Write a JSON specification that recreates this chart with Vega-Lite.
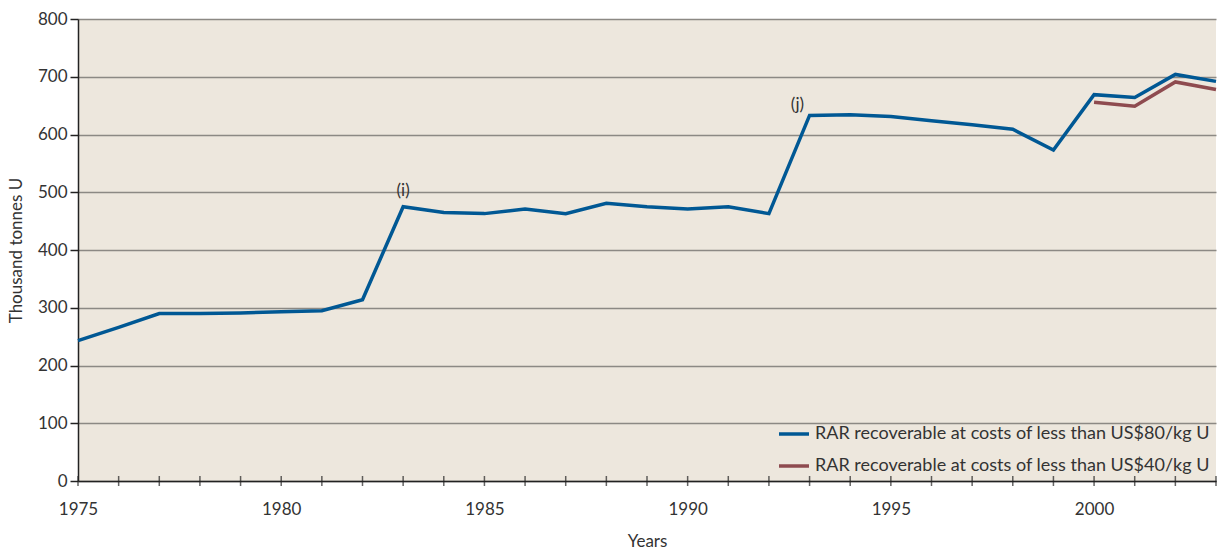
{
  "$schema": "https://vega.github.io/schema/vega-lite/v6.json",
  "width": 1138,
  "height": 462,
  "autosize": "none",
  "padding": {"left": 78, "top": 19, "right": 5, "bottom": 73},
  "background": "#ffffff",
  "config": {
    "font": "Lato",
    "view": {"fill": "#ede7dd", "stroke": null},
    "axis": {"labelFont": "Lato", "titleFont": "Lato", "labelFontSize": 17, "titleFontSize": 17, "labelColor": "#333333", "titleColor": "#333333", "titleFontWeight": "normal", "domainColor": "#222222", "tickColor": "#222222", "domainWidth": 1.5, "tickWidth": 1.5},
    "legend": {"labelFont": "Lato", "labelFontSize": 18, "labelColor": "#333333"}
  },
  "datasets": {
    "series": [
      {"year": 1975, "value": 243, "series": "RAR recoverable at costs of less than US$80/kg U"},
      {"year": 1976, "value": 266, "series": "RAR recoverable at costs of less than US$80/kg U"},
      {"year": 1977, "value": 290, "series": "RAR recoverable at costs of less than US$80/kg U"},
      {"year": 1978, "value": 290, "series": "RAR recoverable at costs of less than US$80/kg U"},
      {"year": 1979, "value": 291, "series": "RAR recoverable at costs of less than US$80/kg U"},
      {"year": 1980, "value": 293, "series": "RAR recoverable at costs of less than US$80/kg U"},
      {"year": 1981, "value": 295, "series": "RAR recoverable at costs of less than US$80/kg U"},
      {"year": 1982, "value": 314, "series": "RAR recoverable at costs of less than US$80/kg U"},
      {"year": 1983, "value": 475, "series": "RAR recoverable at costs of less than US$80/kg U"},
      {"year": 1984, "value": 465, "series": "RAR recoverable at costs of less than US$80/kg U"},
      {"year": 1985, "value": 463, "series": "RAR recoverable at costs of less than US$80/kg U"},
      {"year": 1986, "value": 471, "series": "RAR recoverable at costs of less than US$80/kg U"},
      {"year": 1987, "value": 463, "series": "RAR recoverable at costs of less than US$80/kg U"},
      {"year": 1988, "value": 481, "series": "RAR recoverable at costs of less than US$80/kg U"},
      {"year": 1989, "value": 475, "series": "RAR recoverable at costs of less than US$80/kg U"},
      {"year": 1990, "value": 471, "series": "RAR recoverable at costs of less than US$80/kg U"},
      {"year": 1991, "value": 475, "series": "RAR recoverable at costs of less than US$80/kg U"},
      {"year": 1992, "value": 463, "series": "RAR recoverable at costs of less than US$80/kg U"},
      {"year": 1993, "value": 633, "series": "RAR recoverable at costs of less than US$80/kg U"},
      {"year": 1994, "value": 634, "series": "RAR recoverable at costs of less than US$80/kg U"},
      {"year": 1995, "value": 631, "series": "RAR recoverable at costs of less than US$80/kg U"},
      {"year": 1996, "value": 624, "series": "RAR recoverable at costs of less than US$80/kg U"},
      {"year": 1997, "value": 617, "series": "RAR recoverable at costs of less than US$80/kg U"},
      {"year": 1998, "value": 609, "series": "RAR recoverable at costs of less than US$80/kg U"},
      {"year": 1999, "value": 573, "series": "RAR recoverable at costs of less than US$80/kg U"},
      {"year": 2000, "value": 669, "series": "RAR recoverable at costs of less than US$80/kg U"},
      {"year": 2001, "value": 664, "series": "RAR recoverable at costs of less than US$80/kg U"},
      {"year": 2002, "value": 704, "series": "RAR recoverable at costs of less than US$80/kg U"},
      {"year": 2003, "value": 692, "series": "RAR recoverable at costs of less than US$80/kg U"},
      {"year": 2000, "value": 656, "series": "RAR recoverable at costs of less than US$40/kg U"},
      {"year": 2001, "value": 649, "series": "RAR recoverable at costs of less than US$40/kg U"},
      {"year": 2002, "value": 691, "series": "RAR recoverable at costs of less than US$40/kg U"},
      {"year": 2003, "value": 678, "series": "RAR recoverable at costs of less than US$40/kg U"}
    ],
    "notes": [
      {"year": 1983, "value": 502, "label": "(i)"},
      {"year": 1992.7, "value": 651, "label": "(j)"}
    ]
  },
  "layer": [
    {
      "data": {"name": "series"},
      "mark": {"type": "line", "strokeWidth": 3.5, "strokeJoin": "miter"},
      "encoding": {
        "x": {"field": "year", "type": "quantitative", "scale": {"domain": [1975, 2003], "nice": false, "zero": false},
          "axis": {"title": "Years", "values": [1975,1980,1985,1990,1995,2000],
            "format": "d", "grid": false, "ticks": false, "labelPadding": 20, "titlePadding": 16, "labelOverlap": false, "labelFlush": false}},
        "y": {"field": "value", "type": "quantitative", "scale": {"domain": [0, 800], "nice": false},
          "axis": {"title": "Thousand tonnes U", "values": [0,100,200,300,400,500,600,700,800], "grid": true, "gridColor": "#8c8984", "gridWidth": 1.5, "gridOpacity": 1, "tickSize": 8, "labelPadding": 3, "titlePadding": 12}},
        "color": {"field": "series", "type": "nominal",
          "scale": {"domain": ["RAR recoverable at costs of less than US$80/kg U", "RAR recoverable at costs of less than US$40/kg U"], "range": ["#005894", "#8e4b4f"]},
          "legend": {"title": null, "orient": "bottom-right", "offset": 6, "symbolType": "stroke", "symbolStrokeWidth": 3.5, "symbolSize": 900, "rowPadding": 6, "labelLimit": 600}}
      }
    },
    {
      "data": {"name": "series"},
      "transform": [{"filter": "datum.series == 'RAR recoverable at costs of less than US$80/kg U'"}],
      "mark": {"type": "tick", "orient": "vertical", "size": 10, "thickness": 1.5, "color": "#222222"},
      "encoding": {
        "x": {"field": "year", "type": "quantitative"},
        "y": {"datum": 0}
      }
    },
    {
      "data": {"name": "notes"},
      "mark": {"type": "text", "font": "Lato", "fontSize": 17, "color": "#333333", "baseline": "middle", "align": "center"},
      "encoding": {
        "x": {"field": "year", "type": "quantitative"},
        "y": {"field": "value", "type": "quantitative"},
        "text": {"field": "label"}
      }
    }
  ]
}
